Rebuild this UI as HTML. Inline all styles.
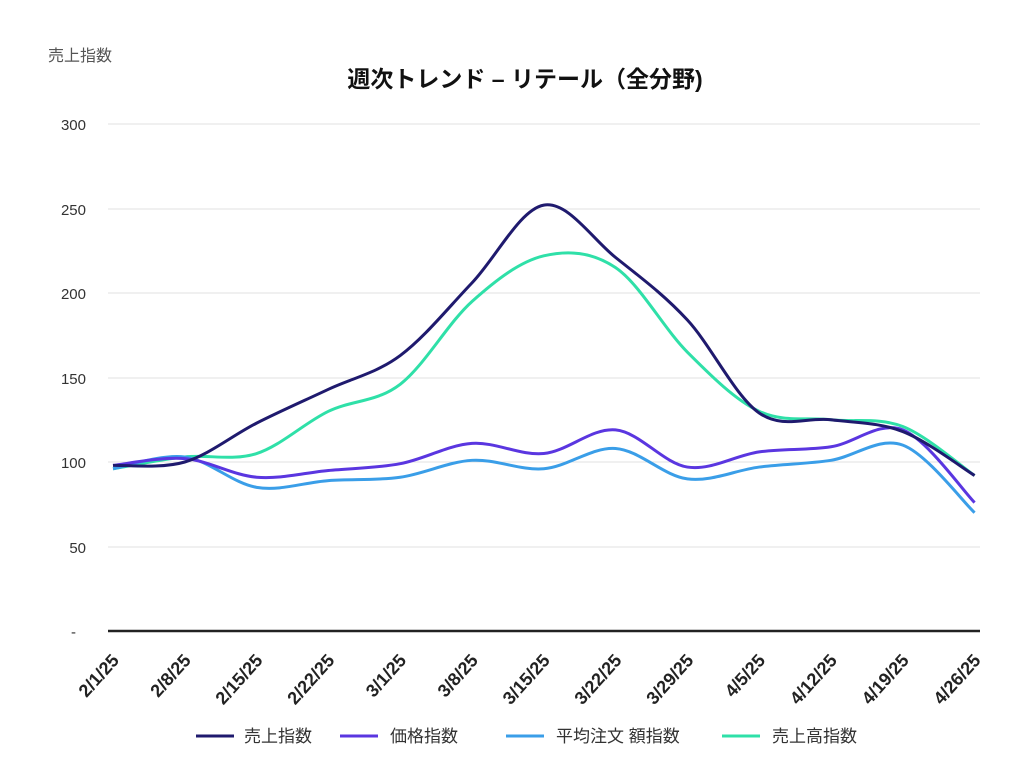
<!DOCTYPE html>
<html><head><meta charset="utf-8"><style>
body{margin:0;background:#fff;}
svg text{font-family:"Liberation Sans","Noto Sans CJK JP",sans-serif;}
</style></head><body>
<svg id="s" width="1024" height="764" xmlns="http://www.w3.org/2000/svg">
<text x="48" y="61" font-size="16" fill="#555">売上指数</text>
<text x="525" y="87" font-size="23" font-weight="bold" fill="#111" text-anchor="middle">週次トレンド – リテール（全分野)</text>
<g stroke="#e2e2e2" stroke-width="1">
<line x1="108" x2="980" y1="124" y2="124"/><line x1="108" x2="980" y1="209" y2="209"/>
<line x1="108" x2="980" y1="293" y2="293"/><line x1="108" x2="980" y1="378" y2="378"/>
<line x1="108" x2="980" y1="462" y2="462"/><line x1="108" x2="980" y1="547" y2="547"/>
</g>
<g font-size="15" fill="#333" text-anchor="end">
<text x="86" y="130">300</text><text x="86" y="215">250</text><text x="86" y="299">200</text>
<text x="86" y="384">150</text><text x="86" y="468">100</text><text x="86" y="553">50</text>
<text x="76" y="637">-</text>
</g>
<line x1="108" x2="980" y1="631" y2="631" stroke="#222" stroke-width="2.5"/>
<g id="xl" font-size="18" fill="#222" font-weight="bold"></g>
<g id="lines" fill="none" stroke-width="3"></g>
<g font-size="17" fill="#333">
<line x1="196" x2="234" y1="736" y2="736" stroke="#1f1a6e" stroke-width="3"/><text x="244" y="742">売上指数</text>
<line x1="340" x2="378" y1="736" y2="736" stroke="#5a36e0" stroke-width="3"/><text x="390" y="742">価格指数</text>
<line x1="506" x2="544" y1="736" y2="736" stroke="#3a9ee8" stroke-width="3"/><text x="556" y="742">平均注文 額指数</text>
<line x1="722" x2="760" y1="736" y2="736" stroke="#2fe0a8" stroke-width="3"/><text x="772" y="742">売上高指数</text>
</g>
</svg>
<script>
const X=i=>113+i*71.8, Y=v=>631-v*1.69;
const labels=["2/1/25","2/8/25","2/15/25","2/22/25","3/1/25","3/8/25","3/15/25","3/22/25","3/29/25","4/5/25","4/12/25","4/19/25","4/26/25"];
let xl=document.getElementById('xl');
labels.forEach((l,i)=>{xl.innerHTML+=`<text transform="translate(${X(i)+7},${661}) rotate(-48)" text-anchor="end">${l}</text>`;});
const series=[
["#2fe0a8",[96,103,105,130,146,195,222,215,165,130,125,121,92]],
["#3a9ee8",[96,103,85,89,91,101,96,108,90,97,101,110,70]],
["#5a36e0",[98,102,91,95,99,111,105,119,97,106,109,119,76]],
["#1f1a6e",[98,100,123,143,163,206,252,221,184,129,125,118,92]],
];
let g=document.getElementById('lines');
series.forEach(([c,d])=>{
 let p=d.map((v,i)=>[X(i),Y(v)]);
 let s=`M${p[0][0]},${p[0][1]}`;
 for(let i=0;i<p.length-1;i++){
  let p0=p[Math.max(0,i-1)],p1=p[i],p2=p[i+1],p3=p[Math.min(p.length-1,i+2)];
  let c1=[p1[0]+(p2[0]-p0[0])/6,p1[1]+(p2[1]-p0[1])/6],c2=[p2[0]-(p3[0]-p1[0])/6,p2[1]-(p3[1]-p1[1])/6];
  s+=`C${c1[0]},${c1[1]} ${c2[0]},${c2[1]} ${p2[0]},${p2[1]}`;
 }
 g.innerHTML+=`<path d="${s}" stroke="${c}"/>`;
});
</script>
</body></html>
